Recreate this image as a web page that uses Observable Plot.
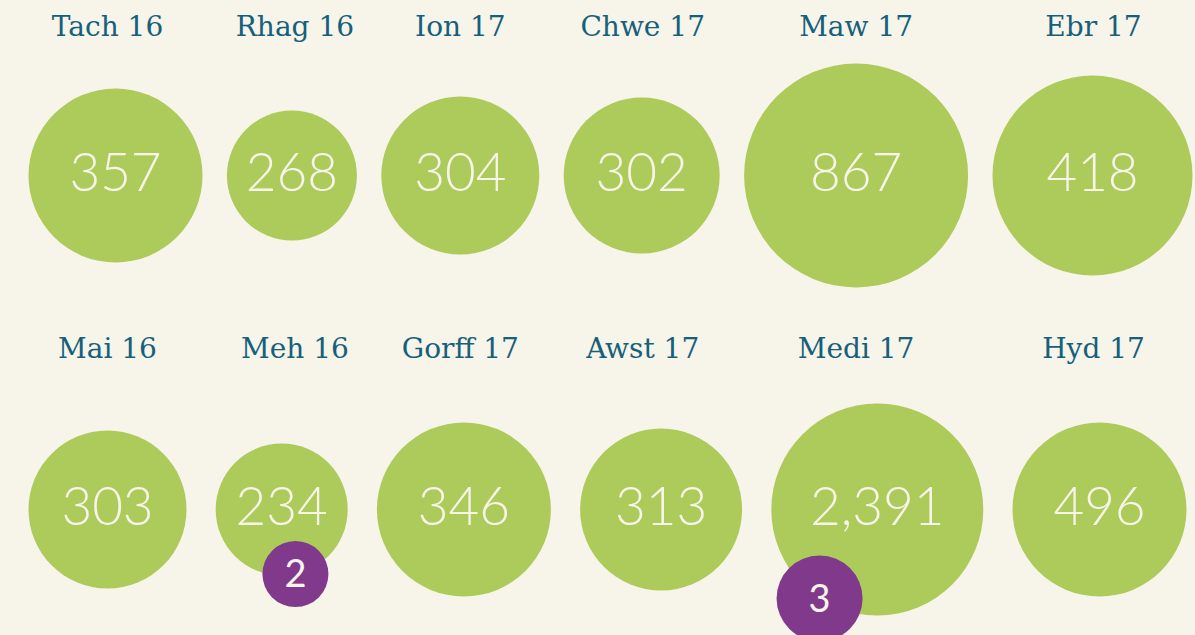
<!DOCTYPE html>
<html>
<head>
<meta charset="utf-8">
<script src="https://cdn.jsdelivr.net/npm/d3@7"></script>
<script src="https://cdn.jsdelivr.net/npm/@observablehq/plot@0.6"></script>
<style>
  html, body { margin: 0; padding: 0; background: #f7f4ea; }
  #chart { width: 1195px; height: 635px; }
</style>
</head>
<body>
<div id="chart"></div>
<script>
// Data
const row1Months = ["Tach 16", "Rhag 16", "Ion 17", "Chwe 17", "Maw 17", "Ebr 17"];
const row1Values = [357, 268, 304, 302, 867, 418];
const row1Sizes  = [87, 65, 79, 78, 112, 100];   // circle size measure as drawn

const row2Months = ["Mai 16", "Meh 16", "Gorff 17", "Awst 17", "Medi 17", "Hyd 17"];
const row2Values = [303, 234, 346, 313, 2391, 496];
const row2Sizes  = [79, 66, 87, 81, 106, 87];

const badgeMonths = ["Meh 16", "Medi 17"];
const badgeValues = [2, 3];
const badgeSizes  = [33, 43];

// ---- layout (positions computed, not data) ----
const W = 1195, H = 635;
const left = 28;
const rightEdge = [1192, 1186];
const rowCY = [175, 509];
const labelY = [27, 349];

function pack(months, values, sizes, row) {
  const total = d3.sum(sizes, s => 2 * s);
  const gap = (rightEdge[row] - left - total) / (months.length - 1);
  let x = left;
  return months.map((m, i) => {
    const cx = x + sizes[i];
    x += 2 * sizes[i] + gap;
    return {month: m, value: values[i], size: sizes[i], x: cx, y: rowCY[row], row, col: i};
  });
}
const circles = [
  ...pack(row1Months, row1Values, row1Sizes, 0),
  ...pack(row2Months, row2Values, row2Sizes, 1)
];
const colX = circles.filter(d => d.row === 0).map(d => d.x);
const colShift = [-8, 3, 0, 1, 0, 1];
const labels = circles.map(d => ({month: d.month, x: colX[d.col] + colShift[d.col], y: labelY[d.row]}));

// badges sit on the lower rim of their circle
const badgeAngles = {"Meh 16": 78, "Medi 17": 123}; // degrees below horizontal
const badges = badgeMonths.map((m, i) => {
  const c = circles.find(d => d.month === m);
  const a = badgeAngles[m] * Math.PI / 180;
  return {month: m, value: badgeValues[i], size: badgeSizes[i],
          x: c.x + Math.cos(a) * c.size, y: c.y + Math.sin(a) * c.size};
});

const fmt = d3.format(",");

const chart = Plot.plot({
  width: W, height: H,
  margin: 0,
  style: {background: "#f7f4ea", overflow: "visible"},
  x: {domain: [0, W], range: [0, W], axis: null},
  y: {domain: [0, H], range: [0, H], axis: null},
  r: {type: "linear", domain: [0, 112], range: [0, 112]},
  marks: [
    Plot.dot(circles, {x: "x", y: "y", r: "size", fill: "#adcb5b", stroke: "none"}),
    Plot.text(circles, {x: "x", y: "y", text: d => fmt(d.value), fill: "#f7f4ea",
      fontFamily: "Lato", fontWeight: 300, fontSize: 53, textAnchor: "middle", dy: -1}),
    Plot.text(labels, {x: "x", y: "y", text: "month", fill: "#15607a",
      fontFamily: "DejaVu Serif", fontSize: 28, textAnchor: "middle"}),
    Plot.dot(badges, {x: "x", y: "y", r: "size", fill: "#80398b", stroke: "none"}),
    Plot.text(badges, {x: "x", y: "y", text: d => String(d.value), fill: "#f7f4ea",
      fontFamily: "Lato", fontWeight: 400, fontSize: 38, textAnchor: "middle", dy: 1})
  ]
});
document.getElementById("chart").appendChild(chart);
</script>
</body>
</html>
